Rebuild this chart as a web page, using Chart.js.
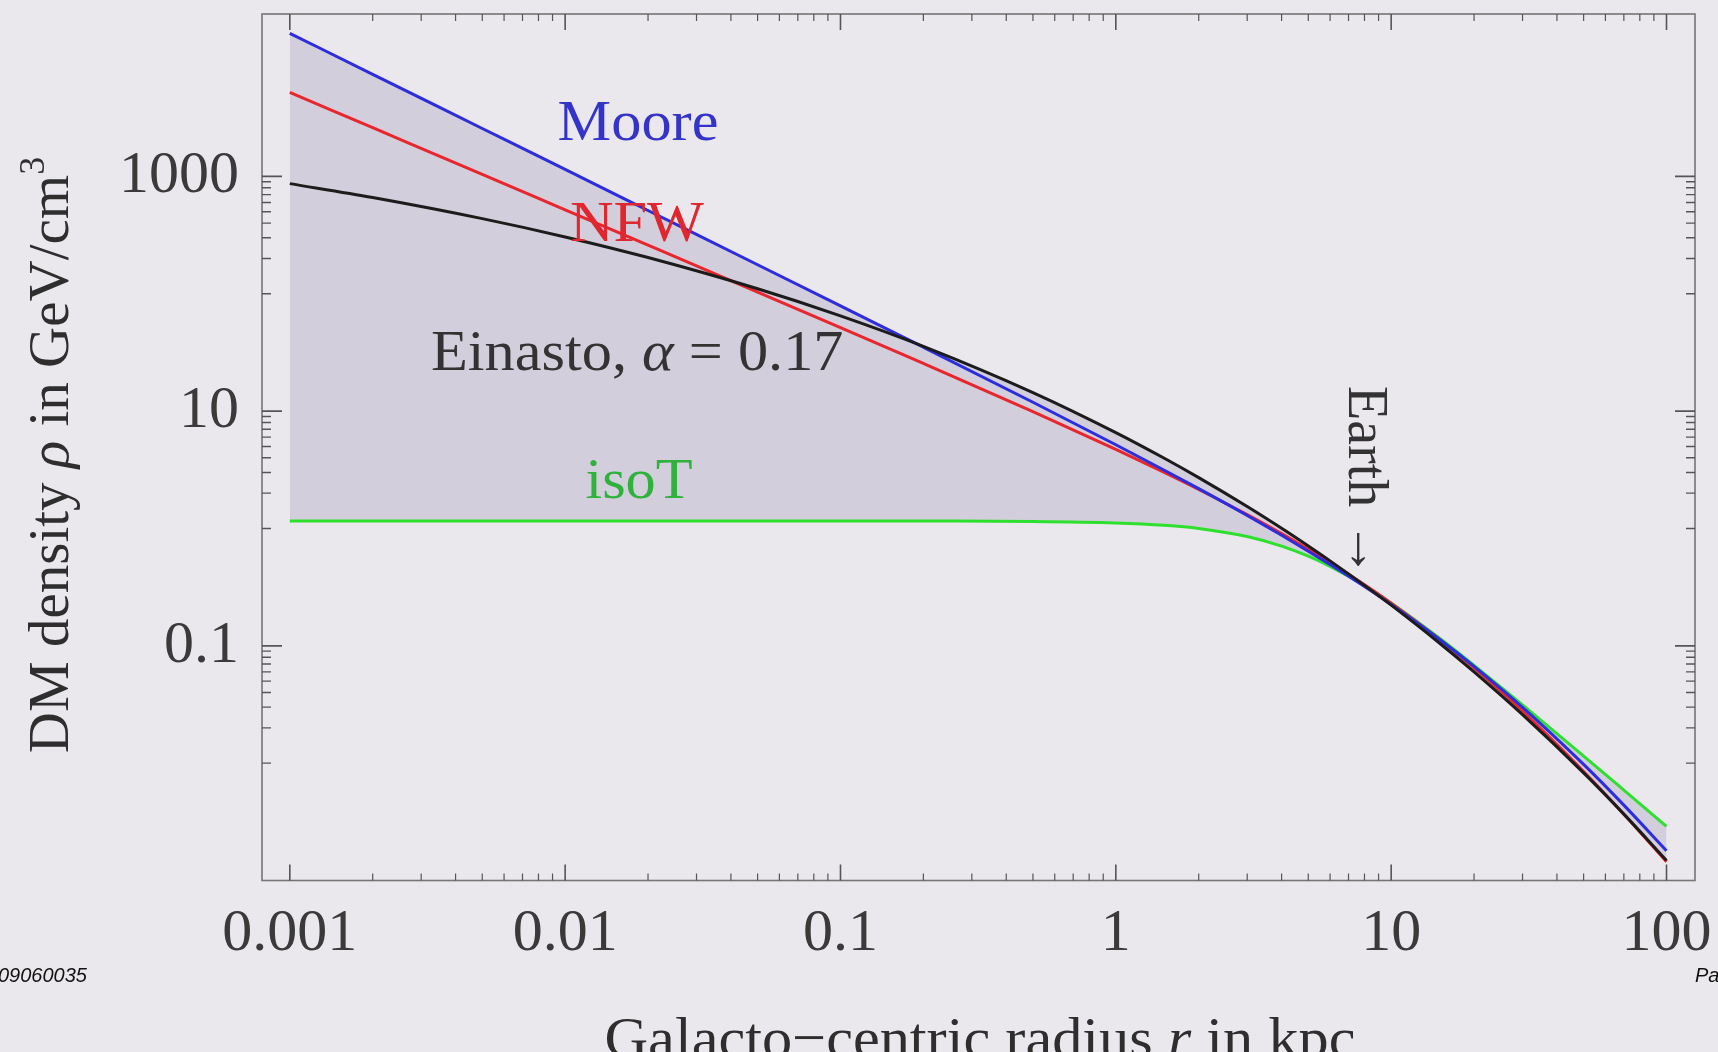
<!DOCTYPE html>
<html>
<head>
<meta charset="utf-8">
<title>DM density profiles</title>
<script src="https://cdn.jsdelivr.net/npm/chart.js@4.4.1/dist/chart.umd.min.js"></script>
<style>
  html, body { margin: 0; padding: 0; background: #ebe8ed; overflow: hidden; }
  canvas { display: block; background: #ebe8ed; }
</style>
</head>
<body>
<canvas id="profiles" width="1718" height="1052"></canvas>
<script>
// Galacto-centric radius (kpc), shared by every profile
const radius = [0.001, 0.002, 0.005, 0.01, 0.02, 0.05, 0.1, 0.2, 0.5, 1, 1.5, 2, 3, 4, 5, 6, 8, 10, 15, 20, 30, 50, 70, 100];

// DM density in GeV/cm^3
const moore   = [16570, 7414, 2561, 1146, 512.3, 176.7, 78.8, 35.05, 11.89, 5.167, 3.135, 2.182, 1.289, 0.8743, 0.640, 0.4920, 0.3194, 0.2245, 0.1131, 0.0668, 0.02989, 0.009757, 0.004386, 0.001792];
const nfw     = [5200, 2600, 1040, 519.5, 259.5, 103.5, 51.48, 25.49, 9.899, 4.717, 3.0, 2.149, 1.311, 0.9028, 0.6656, 0.5128, 0.3316, 0.2311, 0.1132, 0.065, 0.02773, 0.00849, 0.003668, 0.001444];
const einasto = [868, 660.7, 436.6, 304.8, 203.5, 110.3, 64.8, 35.65, 14.40, 6.563, 3.964, 2.711, 1.537, 1.003, 0.7093, 0.5295, 0.3274, 0.2219, 0.1052, 0.06, 0.02591, 0.008258, 0.003677, 0.00148];
const isoT    = [1.16, 1.16, 1.16, 1.16, 1.16, 1.16, 1.16, 1.158, 1.149, 1.115, 1.064, 1.0, 0.853, 0.707, 0.58, 0.475, 0.326, 0.232, 0.116, 0.0682, 0.0314, 0.0115, 0.00589, 0.00289];

const xTickLabels = [0.001, 0.01, 0.1, 1, 10, 100];
const yTickLabels = [0.1, 10, 1000];

const SERIF = "'Liberation Serif', 'Times New Roman', serif";
const SANS = "'Liberation Sans', Arial, sans-serif";

const toPoints = vals => radius.map((r, i) => ({ x: r, y: vals[i] }));

// envelope of all profiles, used for the grey band
const upper = radius.map((r, i) => Math.max(moore[i], nfw[i], einasto[i], isoT[i]));
const lower = radius.map((r, i) => Math.min(moore[i], nfw[i], einasto[i], isoT[i]));

function curve(label, vals, color, order) {
  return {
    label,
    data: toPoints(vals),
    borderColor: color,
    borderWidth: 3,
    pointRadius: 0,
    fill: false,
    cubicInterpolationMode: 'monotone',
    order
  };
}

// text made of several runs (plain / italic / superscript) on one baseline,
// sx widens the glyphs a little
function drawRuns(ctx, runs, x, y, align, sx = 1) {
  let w = 0;
  runs.forEach(r => { ctx.font = r.font; w += ctx.measureText(r.text).width; });
  ctx.save();
  ctx.translate(align === 'center' ? x - w * sx / 2 : x, y);
  ctx.scale(sx, 1);
  ctx.textAlign = 'left';
  let cx = 0;
  runs.forEach(r => {
    ctx.font = r.font;
    ctx.fillText(r.text, cx, r.dy || 0);
    cx += ctx.measureText(r.text).width;
  });
  ctx.restore();
}

// frame with inward ticks on all four sides, curve names and axis titles
const decorations = {
  id: 'decorations',
  afterDraw(chart) {
    const { ctx, chartArea: a, scales: { x, y } } = chart;
    ctx.save();

    ctx.strokeStyle = '#767676';
    ctx.lineWidth = 1.6;
    ctx.strokeRect(a.left, a.top, a.right - a.left, a.bottom - a.top);

    ctx.strokeStyle = '#555';
    const xTick = (v, len, w) => {
      const px = x.getPixelForValue(v);
      ctx.lineWidth = w;
      ctx.beginPath();
      ctx.moveTo(px, a.bottom); ctx.lineTo(px, a.bottom - len);
      ctx.moveTo(px, a.top); ctx.lineTo(px, a.top + len);
      ctx.stroke();
    };
    const yTick = (v, len, w) => {
      const py = y.getPixelForValue(v);
      ctx.lineWidth = w;
      ctx.beginPath();
      ctx.moveTo(a.left, py); ctx.lineTo(a.left + len, py);
      ctx.moveTo(a.right, py); ctx.lineTo(a.right - len, py);
      ctx.stroke();
    };
    xTickLabels.forEach((d, i) => {
      xTick(d, 16, 1.6);
      if (i < xTickLabels.length - 1) {
        for (let k = 2; k <= 9; k++) xTick(k * d, 7, 1.2);
      }
    });
    yTickLabels.forEach(d => {
      yTick(d, 20, 1.8);
      for (let k = 1; k <= 9; k++) yTick(k * d / 10, 9, 1.4);
    });

    ctx.textBaseline = 'alphabetic';
    const f = size => `${size}px ${SERIF}`;
    const fi = size => `italic ${size}px ${SERIF}`;
    const SX = 1.04;

    ctx.fillStyle = '#3434c8';
    drawRuns(ctx, [{ text: 'Moore', font: f(58) }], 638, 140, 'center', SX);

    ctx.fillStyle = '#e0262e';
    drawRuns(ctx, [{ text: 'NFW', font: f(58) }], 637, 241, 'center', SX);

    ctx.fillStyle = '#333';
    drawRuns(ctx, [
      { text: 'Einasto, ', font: f(58) },
      { text: 'α', font: fi(58) },
      { text: ' = 0.17', font: f(58) }
    ], 431, 370, 'left', SX);

    ctx.fillStyle = '#2fb23c';
    drawRuns(ctx, [{ text: 'isoT', font: f(58) }], 639, 498, 'center', SX);

    ctx.fillStyle = '#333';
    ctx.save();
    ctx.translate(1349, 386);
    ctx.rotate(Math.PI / 2);
    drawRuns(ctx, [{ text: 'Earth →', font: f(56) }], 0, 0, 'left');
    ctx.restore();

    // axis titles
    ctx.fillStyle = '#2e2e2e';
    ctx.save();
    ctx.translate(68, 455);
    ctx.rotate(-Math.PI / 2);
    drawRuns(ctx, [
      { text: 'DM density ', font: f(57) },
      { text: 'ρ', font: fi(57) },
      { text: ' in GeV/cm', font: f(57) },
      { text: '3', font: f(36), dy: -24 }
    ], 0, 0, 'center');
    ctx.restore();

    drawRuns(ctx, [
      { text: 'Galacto−centric radius ', font: f(58) },
      { text: 'r', font: fi(58) },
      { text: ' in kpc', font: f(58) }
    ], 980, 1057, 'center', SX);

    // page footer
    ctx.fillStyle = '#111';
    ctx.font = `italic 20px ${SANS}`;
    ctx.textAlign = 'left';
    ctx.fillText('09060035', -2, 982);
    ctx.fillText('Pa', 1695, 982);

    ctx.restore();
  }
};

new Chart(document.getElementById('profiles'), {
  type: 'line',
  data: {
    datasets: [
      curve('Einasto', einasto, '#1c1c1c', 1),
      curve('Moore', moore, '#2d2de0', 2),
      curve('NFW', nfw, '#e8262e', 3),
      curve('isoT', isoT, '#2ee02e', 4),
      {
        label: 'band',
        data: toPoints(upper),
        borderWidth: 0,
        pointRadius: 0,
        backgroundColor: '#d2cedb',
        fill: '+1',
        cubicInterpolationMode: 'monotone',
        order: 5
      },
      {
        label: 'bandLow',
        data: toPoints(lower),
        borderWidth: 0,
        pointRadius: 0,
        fill: false,
        cubicInterpolationMode: 'monotone',
        order: 6
      }
    ]
  },
  options: {
    responsive: false,
    animation: false,
    layout: { padding: { left: 0, top: 14, right: 23, bottom: 0 } },
    plugins: {
      legend: { display: false },
      tooltip: { enabled: false }
    },
    scales: {
      x: {
        type: 'logarithmic',
        min: Math.pow(10, -3.101),
        max: Math.pow(10, 2.1035),
        grid: { display: false, drawTicks: false },
        border: { display: false },
        afterBuildTicks: s => { s.ticks = xTickLabels.map(v => ({ value: v })); },
        afterFit: s => { s.height = 171.5; s.paddingLeft = 0; s.paddingRight = 0; },
        ticks: {
          autoSkip: false,
          maxRotation: 0,
          padding: 18,
          color: '#3a3a3a',
          font: { family: SERIF, size: 60 },
          callback: v => String(v)
        }
      },
      y: {
        type: 'logarithmic',
        min: 0.001,
        max: Math.pow(10, 4.384),
        grid: { display: false, drawTicks: false },
        border: { display: false },
        afterBuildTicks: s => { s.ticks = yTickLabels.map(v => ({ value: v })); },
        afterFit: s => { s.width = 262; s.paddingTop = 0; s.paddingBottom = 0; },
        ticks: {
          autoSkip: false,
          padding: 23,
          color: '#3a3a3a',
          font: { family: SERIF, size: 60 },
          callback: v => String(v)
        }
      }
    }
  },
  plugins: [decorations]
});
</script>
</body>
</html>
